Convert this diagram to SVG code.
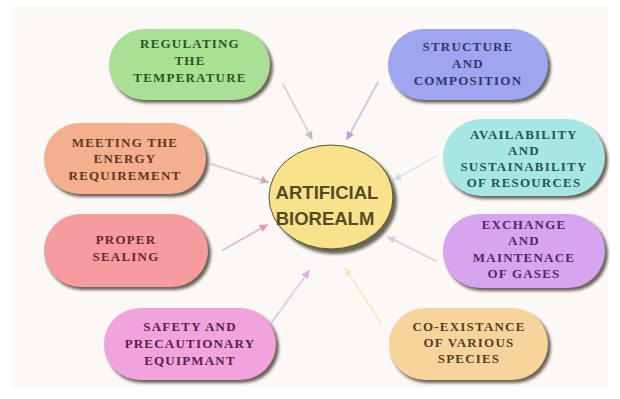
<svg xmlns="http://www.w3.org/2000/svg" width="620" height="399" viewBox="0 0 620 399">
<defs>
<filter id="sh" x="-10%" y="-20%" width="120%" height="140%"><feGaussianBlur stdDeviation="1.6"/></filter>
<filter id="soft" x="-5%" y="-5%" width="110%" height="110%"><feGaussianBlur stdDeviation="0.6"/></filter>
<marker id="aTan" viewBox="0 0 10 10" refX="9" refY="5" markerWidth="4" markerHeight="4" orient="auto"><path d="M0,0 L10,5 L0,10 z" fill="#cfb8b8"/></marker>
<marker id="aBlue" viewBox="0 0 10 10" refX="9" refY="5" markerWidth="4" markerHeight="4" orient="auto"><path d="M0,0 L10,5 L0,10 z" fill="#a9a4e0"/></marker>
<marker id="aOrange" viewBox="0 0 10 10" refX="9" refY="5" markerWidth="4" markerHeight="4" orient="auto"><path d="M0,0 L10,5 L0,10 z" fill="#dca8a8"/></marker>
<marker id="aCyan" viewBox="0 0 10 10" refX="9" refY="5" markerWidth="4" markerHeight="4" orient="auto"><path d="M0,0 L10,5 L0,10 z" fill="#d2e2dc"/></marker>
<marker id="aPink" viewBox="0 0 10 10" refX="9" refY="5" markerWidth="4" markerHeight="4" orient="auto"><path d="M0,0 L10,5 L0,10 z" fill="#e296b4"/></marker>
<marker id="aMag" viewBox="0 0 10 10" refX="9" refY="5" markerWidth="4" markerHeight="4" orient="auto"><path d="M0,0 L10,5 L0,10 z" fill="#e2b0dc"/></marker>
<marker id="aLav" viewBox="0 0 10 10" refX="9" refY="5" markerWidth="4" markerHeight="4" orient="auto"><path d="M0,0 L10,5 L0,10 z" fill="#d8d0dc"/></marker>
<marker id="aPeach" viewBox="0 0 10 10" refX="9" refY="5" markerWidth="4" markerHeight="4" orient="auto"><path d="M0,0 L10,5 L0,10 z" fill="#efe6bc"/></marker>
</defs>
<style>
.shadow{fill:#3b3026;opacity:0.75;filter:url(#sh)}
.pill{filter:url(#soft)}
.lbl{font-family:"Liberation Serif","Times New Roman",serif;font-weight:bold;font-size:13px;letter-spacing:1.2px;text-anchor:middle}
.conn{fill:none;stroke-width:2;stroke-linecap:round}
.hub{font-family:"Liberation Sans",Arial,sans-serif;font-weight:bold;font-size:18.5px;text-anchor:middle;fill:#544c24}
</style>
<rect x="0" y="0" width="620" height="399" fill="#ffffff"/>
<rect x="12" y="6" width="596" height="382" fill="#fbf8f5"/>

<g id="connectors">
<line class="conn" x1="283" y1="84" x2="312" y2="139" stroke="#e6d2d0" marker-end="url(#aTan)"/>
<line class="conn" x1="378" y1="82" x2="347" y2="139" stroke="#cfcbea" marker-end="url(#aBlue)"/>
<line class="conn" x1="211" y1="164" x2="268" y2="182" stroke="#ecc9c4" marker-end="url(#aOrange)"/>
<line class="conn" x1="436" y1="156" x2="394" y2="180" stroke="#dbe8e2" marker-end="url(#aCyan)"/>
<line class="conn" x1="223" y1="250" x2="267" y2="225" stroke="#ecbccb" marker-end="url(#aPink)"/>
<line class="conn" x1="272" y1="322" x2="309" y2="271" stroke="#ecc8e4" marker-end="url(#aMag)"/>
<line class="conn" x1="436" y1="261" x2="388" y2="237" stroke="#ddd6e2" marker-end="url(#aLav)"/>
<line class="conn" x1="381" y1="323" x2="345" y2="268" stroke="#f2ebc8" marker-end="url(#aPeach)"/>
</g>

<g id="hub">
<ellipse class="shadow" cx="335" cy="201" rx="62" ry="53"/>
<ellipse cx="331" cy="197" rx="62" ry="52" fill="#f8e38c" stroke="#5b5228" stroke-width="1" class="pill"/>
<text class="hub" x="327" y="199">ARTIFICIAL</text>
<text class="hub" x="325" y="225">BIOREALM</text>
</g>

<g id="n-temperature">
<rect class="shadow" x="111" y="32" width="162" height="71" rx="35.5"/>
<rect class="pill" x="109" y="29" width="161" height="71" rx="35.5" fill="#a9e094"/>
<text class="lbl" fill="#2f5526"><tspan x="190" y="48">REGULATING</tspan><tspan x="190" y="65">THE</tspan><tspan x="190" y="82">TEMPERATURE</tspan></text>
</g>

<g id="n-energy">
<rect class="shadow" x="46" y="126" width="163" height="71" rx="35.5"/>
<rect class="pill" x="44" y="123" width="162" height="71" rx="35.5" fill="#f4b08e"/>
<text class="lbl" fill="#5e3822"><tspan x="125" y="147">MEETING THE</tspan><tspan x="125" y="163">ENERGY</tspan><tspan x="125" y="180">REQUIREMENT</tspan></text>
</g>

<g id="n-sealing">
<rect class="shadow" x="46" y="217" width="165" height="73" rx="36.5"/>
<rect class="pill" x="44" y="214" width="164" height="73" rx="36.5" fill="#f69c9e"/>
<text class="lbl" fill="#652a30"><tspan x="126" y="244">PROPER</tspan><tspan x="126" y="261">SEALING</tspan></text>
</g>

<g id="n-safety">
<rect class="shadow" x="106" y="311" width="173" height="72" rx="36"/>
<rect class="pill" x="104" y="308" width="172" height="72" rx="36" fill="#f1a3dd"/>
<text class="lbl" fill="#582148"><tspan x="190" y="331">SAFETY AND</tspan><tspan x="190" y="348">PRECAUTIONARY</tspan><tspan x="190" y="365">EQUIPMANT</tspan></text>
</g>

<g id="n-structure">
<rect class="shadow" x="390" y="32" width="161" height="71" rx="35.5"/>
<rect class="pill" x="388" y="29" width="160" height="71" rx="35.5" fill="#9fa5ee"/>
<text class="lbl" fill="#33366a"><tspan x="468" y="51">STRUCTURE</tspan><tspan x="468" y="68">AND</tspan><tspan x="468" y="85">COMPOSITION</tspan></text>
</g>

<g id="n-resources">
<rect class="shadow" x="445" y="122" width="163" height="77" rx="38.5"/>
<rect class="pill" x="443" y="119" width="162" height="77" rx="38.5" fill="#a6e7e6"/>
<text class="lbl" fill="#265454"><tspan x="524" y="139">AVAILABILITY</tspan><tspan x="524" y="155">AND</tspan><tspan x="524" y="171">SUSTAINABILITY</tspan><tspan x="524" y="187">OF RESOURCES</tspan></text>
</g>

<g id="n-gases">
<rect class="shadow" x="445" y="217" width="163" height="74" rx="37"/>
<rect class="pill" x="443" y="214" width="162" height="74" rx="37" fill="#d7a5ef"/>
<text class="lbl" fill="#4d2c60"><tspan x="524" y="229">EXCHANGE</tspan><tspan x="524" y="245">AND</tspan><tspan x="524" y="262">MAINTENACE</tspan><tspan x="524" y="278">OF GASES</tspan></text>
</g>

<g id="n-species">
<rect class="shadow" x="391" y="311" width="160" height="72" rx="36"/>
<rect class="pill" x="389" y="308" width="159" height="72" rx="36" fill="#f7d49c"/>
<text class="lbl" fill="#553d1e"><tspan x="469" y="331">CO-EXISTANCE</tspan><tspan x="469" y="347">OF VARIOUS</tspan><tspan x="469" y="363">SPECIES</tspan></text>
</g>
</svg>
